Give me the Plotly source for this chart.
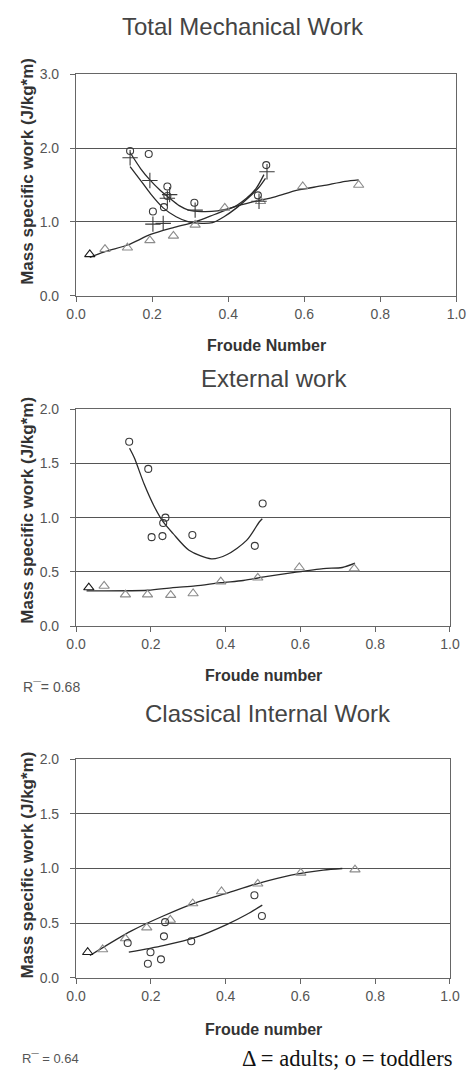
import plotly.graph_objects as go

W, H = 475, 1083

# ---- Panel 1: Total Mechanical Work ----
tm_adult_x = [0.036, 0.076, 0.135, 0.194, 0.256, 0.313, 0.391, 0.485, 0.596, 0.743]
tm_adult_y = [0.56, 0.63, 0.65, 0.75, 0.81, 0.96, 1.19, 1.28, 1.48, 1.50]
tm_tod_x = [0.142, 0.191, 0.202, 0.231, 0.240, 0.240, 0.311, 0.478, 0.500]
tm_tod_y = [1.96, 1.92, 1.14, 1.20, 1.48, 1.35, 1.26, 1.36, 1.77]
tm_cross_x = [0.142, 0.194, 0.202, 0.229, 0.240, 0.246, 0.313, 0.481, 0.502]
tm_cross_y = [1.87, 1.56, 0.97, 0.98, 1.32, 1.37, 1.16, 1.28, 1.68]

tm_adult_fit_x = [0.036, 0.078, 0.137, 0.196, 0.254, 0.313, 0.364, 0.414, 0.464,
                  0.523, 0.582, 0.649, 0.708, 0.743]
tm_adult_fit_y = [0.52, 0.60, 0.69, 0.83, 0.92, 1.00, 1.10, 1.20, 1.27,
                  1.34, 1.43, 1.49, 1.55, 1.57]
tm_fit_a_x = [0.142, 0.170, 0.194, 0.221, 0.246, 0.271, 0.296, 0.330, 0.372,
              0.414, 0.448, 0.473, 0.494]
tm_fit_a_y = [1.94, 1.72, 1.57, 1.43, 1.32, 1.22, 1.16, 1.14, 1.15,
              1.20, 1.32, 1.45, 1.64]
tm_fit_b_x = [0.142, 0.170, 0.196, 0.229, 0.263, 0.296, 0.330, 0.359, 0.389,
              0.422, 0.456, 0.481, 0.498]
tm_fit_b_y = [1.75, 1.56, 1.38, 1.19, 1.07, 1.00, 0.98, 0.99, 1.07,
              1.19, 1.34, 1.47, 1.59]

# ---- Panel 2: External work ----
ex_adult_x = [0.034, 0.075, 0.132, 0.191, 0.253, 0.313, 0.387, 0.486, 0.597, 0.744]
ex_adult_y = [0.355, 0.37, 0.29, 0.29, 0.285, 0.30, 0.41, 0.445, 0.54, 0.53]
ex_tod_x = [0.142, 0.193, 0.202, 0.231, 0.239, 0.233, 0.311, 0.478, 0.499]
ex_tod_y = [1.70, 1.45, 0.82, 0.83, 1.00, 0.95, 0.84, 0.74, 1.13]

ex_adult_fit_x = [0.028, 0.191, 0.259, 0.319, 0.387, 0.447, 0.507, 0.575, 0.661, 0.712, 0.746]
ex_adult_fit_y = [0.325, 0.33, 0.355, 0.37, 0.40, 0.42, 0.455, 0.49, 0.53, 0.54, 0.58]
ex_tod_fit_x = [0.143, 0.156, 0.182, 0.208, 0.233, 0.259, 0.302, 0.362, 0.404,
                0.456, 0.490, 0.498]
ex_tod_fit_y = [1.64, 1.55, 1.31, 1.11, 0.96, 0.855, 0.70, 0.62, 0.66,
                0.79, 0.96, 0.99]

# ---- Panel 3: Classical Internal Work ----
ci_adult_x = [0.031, 0.071, 0.132, 0.189, 0.252, 0.312, 0.389, 0.486, 0.601, 0.746]
ci_adult_y = [0.235, 0.26, 0.36, 0.46, 0.53, 0.68, 0.79, 0.86, 0.96, 0.99]
ci_tod_x = [0.138, 0.192, 0.227, 0.199, 0.235, 0.238, 0.308, 0.477, 0.497]
ci_tod_y = [0.32, 0.13, 0.17, 0.235, 0.38, 0.51, 0.335, 0.755, 0.566]

ci_adult_fit_x = [0.037, 0.148, 0.233, 0.319, 0.404, 0.490, 0.575, 0.661, 0.712]
ci_adult_fit_y = [0.205, 0.43, 0.566, 0.686, 0.776, 0.867, 0.94, 0.986, 1.0]
ci_tod_fit_x = [0.141, 0.233, 0.319, 0.404, 0.456, 0.498]
ci_tod_fit_y = [0.235, 0.295, 0.37, 0.49, 0.58, 0.665]

titles = ["Total Mechanical Work", "External work", "Classical Internal Work"]
xtitles = ["Froude Number", "Froude number", "Froude number"]
ytitle = "Mass specific work (J/kg*m)"
r_labels = ["R<b>¯</b>= 0.68", "R<b>¯</b> = 0.64"]
legend_text = "Δ = adults; o = toddlers"

SANS = "Liberation Sans, Arial, sans-serif"
SERIF = "Liberation Serif, Times New Roman, serif"
LINE = "#2a2a2a"
ADULT = "#8c8c8c"
TOD = "#3a3a3a"


def py(p):
    return 1 - p / H


def px(p):
    return p / W


fig = go.Figure()

# panel geometry (pixels): left, right, top, bottom, ymax, dtick
panels = [
    (69, 466, 67.3, 292.0, 3.0, 1.0),
    (69, 459.3, 407.3, 627.3, 2.0, 0.5),
    (69, 459.3, 762.3, 984.5, 2.0, 0.5),
]

adult_colors = ["#1a1a1a"] + [ADULT] * 9


def add_panel(i, ax, ay, tx, ty, fits, extra=None):
    xa = "x" if i == 0 else f"x{i+1}"
    ya = "y" if i == 0 else f"y{i+1}"
    for fx, fy in fits:
        fig.add_trace(go.Scatter(x=fx, y=fy, mode="lines", xaxis=xa, yaxis=ya,
                                 line=dict(color=LINE, width=1.3, shape="spline",
                                           smoothing=0.8),
                                 showlegend=False, hoverinfo="skip"))
    fig.add_trace(go.Scatter(x=ax, y=ay, mode="markers", xaxis=xa, yaxis=ya,
                             marker=dict(symbol="triangle-up-open", size=9,
                                         color=adult_colors,
                                         line=dict(width=1.1, color=adult_colors)),
                             showlegend=False))
    fig.add_trace(go.Scatter(x=tx, y=ty, mode="markers", xaxis=xa, yaxis=ya,
                             marker=dict(symbol="circle-open", size=7, color=TOD,
                                         line=dict(width=1.1, color=TOD)),
                             showlegend=False))
    if extra is not None:
        cx, cy = extra
        fig.add_trace(go.Scatter(x=cx, y=cy, mode="markers", xaxis=xa, yaxis=ya,
                                 marker=dict(symbol="cross-thin-open", size=11, color=TOD,
                                             line=dict(width=1.1, color=TOD)),
                                 showlegend=False))


add_panel(0, tm_adult_x, tm_adult_y, tm_tod_x, tm_tod_y,
          [(tm_adult_fit_x, tm_adult_fit_y), (tm_fit_a_x, tm_fit_a_y),
           (tm_fit_b_x, tm_fit_b_y)], (tm_cross_x, tm_cross_y))
add_panel(1, ex_adult_x, ex_adult_y, ex_tod_x, ex_tod_y,
          [(ex_adult_fit_x, ex_adult_fit_y), (ex_tod_fit_x, ex_tod_fit_y)])
add_panel(2, ci_adult_x, ci_adult_y, ci_tod_x, ci_tod_y,
          [(ci_adult_fit_x, ci_adult_fit_y), (ci_tod_fit_x, ci_tod_fit_y)])

layout = dict(
    width=W, height=H, margin=dict(l=0, r=0, t=0, b=0),
    paper_bgcolor="white", plot_bgcolor="white",
    font=dict(family=SANS, color="#555555", size=14),
    showlegend=False,
)

annotations = []
title_x = [243, 276, 269]
title_y = [19, 376, 716]
xtitle_y = [343, 678, 1036.5]
ytitle_c = [166, 510, 870]
for i, (l, r, t, b, ymax, dt) in enumerate(panels):
    xk = "xaxis" if i == 0 else f"xaxis{i+1}"
    yk = "yaxis" if i == 0 else f"yaxis{i+1}"
    ya = "y" if i == 0 else f"y{i+1}"
    xa = "x" if i == 0 else f"x{i+1}"
    layout[xk] = dict(domain=[px(l), px(r)], anchor=ya, range=[0, 1.0], dtick=0.2,
                      tickformat=".1f", showgrid=False, zeroline=False,
                      showline=True, linecolor="#666666", linewidth=1.3, mirror=True,
                      ticks="outside", ticklen=5, tickcolor="#666666",
                      tickfont=dict(size=14, color="#555555"))
    layout[yk] = dict(domain=[py(b), py(t)], anchor=xa, range=[0, ymax], dtick=dt,
                      tickformat=".1f", showgrid=True, gridcolor="#555555",
                      gridwidth=1.3, zeroline=False,
                      showline=True, linecolor="#666666", linewidth=1.3, mirror=True,
                      ticks="outside", ticklen=5, tickcolor="#666666",
                      ticklabelstandoff=8,
                      tickfont=dict(size=14, color="#555555"))
    annotations.append(dict(text=titles[i], x=px(title_x[i]),
                            y=py(title_y[i]), xref="paper", yref="paper",
                            showarrow=False, xanchor="center", yanchor="middle",
                            font=dict(size=24, color="#444444", family=SANS)))
    annotations.append(dict(text=f"<b>{xtitles[i]}</b>", x=px((l + r) / 2),
                            y=py(xtitle_y[i]), xref="paper", yref="paper",
                            showarrow=False, xanchor="center", yanchor="middle",
                            font=dict(size=16, color="#333333", family=SANS)))
    annotations.append(dict(text=f"<b>{ytitle}</b>", x=px(18), y=py(ytitle_c[i]),
                            xref="paper", yref="paper", showarrow=False,
                            textangle=-90, xanchor="center", yanchor="middle",
                            font=dict(size=17, color="#333333", family=SANS)))

annotations.append(dict(text=r_labels[0], x=px(12), y=py(689), xref="paper", yref="paper",
                        showarrow=False, xanchor="left", yanchor="middle",
                        font=dict(size=14, color="#555555", family=SANS)))
annotations.append(dict(text=r_labels[1], x=px(10), y=py(1066.5), xref="paper", yref="paper",
                        showarrow=False, xanchor="left", yanchor="middle",
                        font=dict(size=13, color="#555555", family=SANS)))
annotations.append(dict(text=legend_text, x=px(463), y=py(1066), xref="paper", yref="paper",
                        showarrow=False, xanchor="right", yanchor="middle",
                        font=dict(size=22.5, color="#111111", family=SERIF)))

layout["annotations"] = annotations
fig.update_layout(**layout)

fig.write_html("out.html")
